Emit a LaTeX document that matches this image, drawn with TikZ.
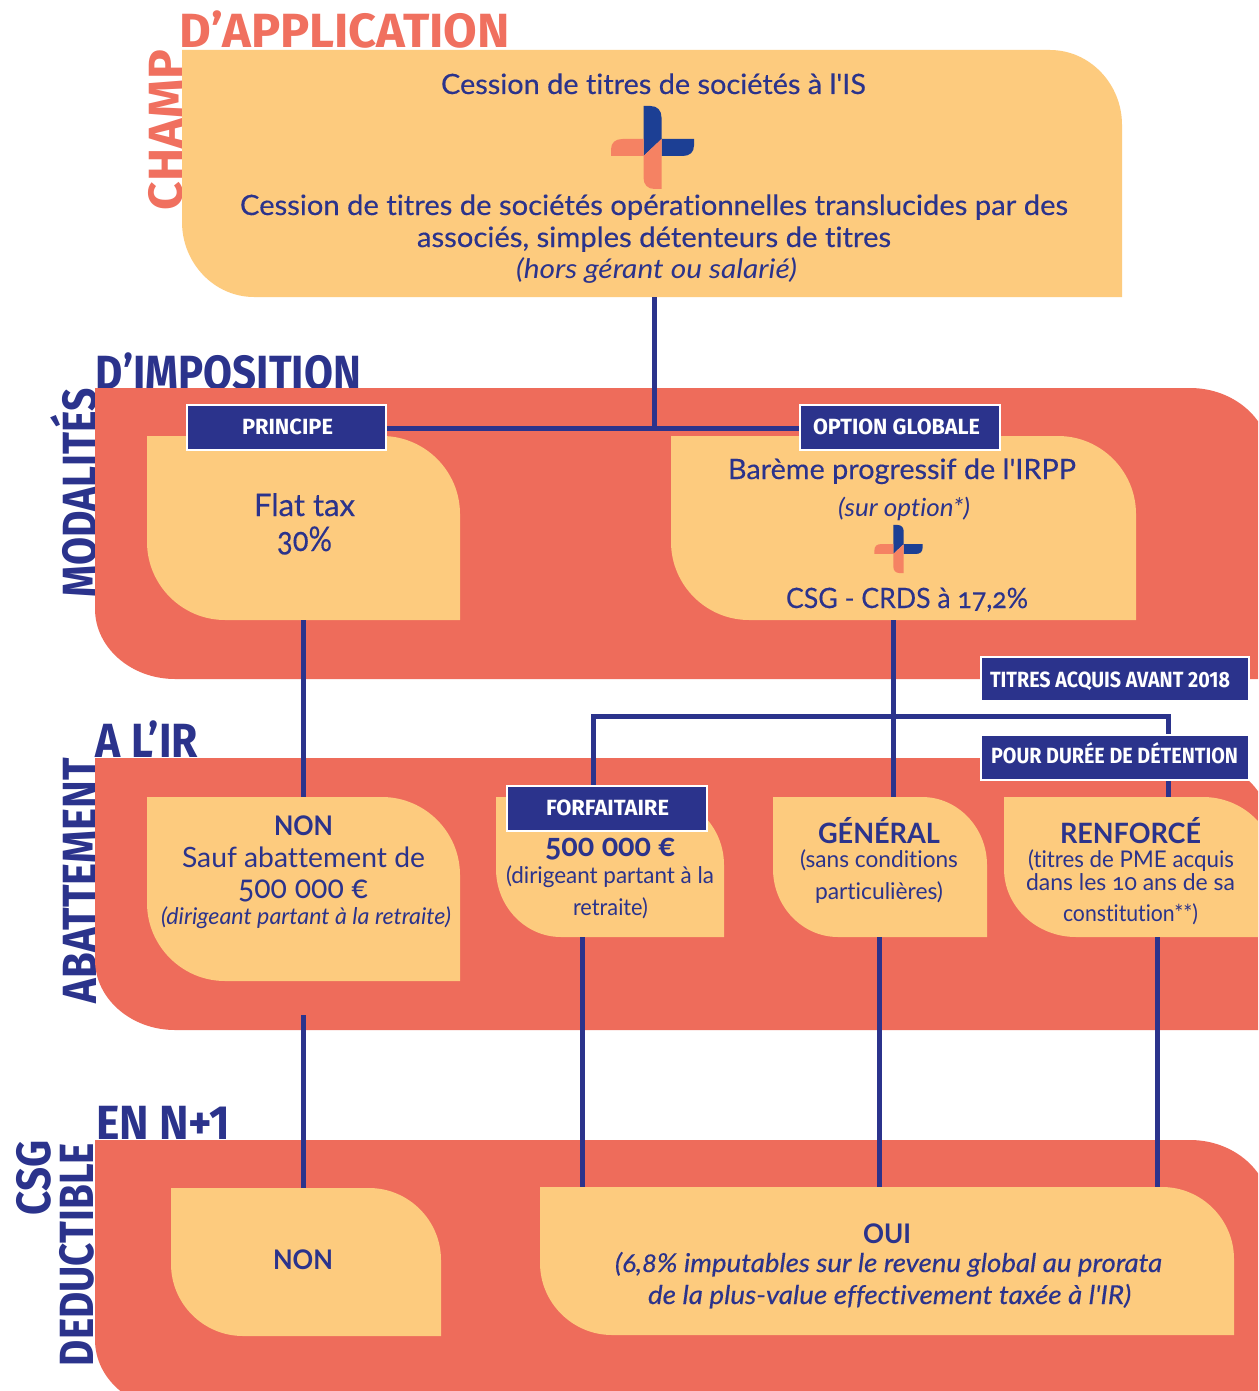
\documentclass[tikz,border=0pt]{standalone}
\usepackage{fontspec}
\usepackage{graphicx}
\setmainfont{Lato}
\newfontfamily\headf{Fira Sans}[BoldFont=Fira Sans Bold]
\newfontfamily\medf{Lato}[FakeBold=0.35,ItalicFont=Lato Italic,ItalicFeatures={FakeBold=0.35},Ligatures=NoCommon,Numbers=OldStyle]
\newfontfamily\regf{Lato}[ItalicFont=Lato Italic,Ligatures=NoCommon,Numbers=OldStyle]
\definecolor{navy}{HTML}{2B338C}
\definecolor{redband}{HTML}{EE6C5B}
\definecolor{salmonh}{HTML}{F0705F}
\definecolor{sand}{HTML}{FDCB7E}
\definecolor{logoblue}{HTML}{1C3F94}
\definecolor{logosalm}{HTML}{F58263}
\tikzset{
  conn/.style={draw=navy,line width=5pt},
  tagbox/.style={rectangle,fill=navy,draw=white,line width=2.5pt,inner sep=0pt,text=white},
  holder/.style={rectangle,inner sep=0pt,draw=none},
  label/.style={inner sep=0pt,outer sep=0pt,anchor=base}
}
% name, x1,y1,x2,y2,rx,ry,colour
\newcommand{\leafbox}[8]{%
  \fill[#8] (#2,#3) -- ({#4-#6},#3) .. controls ({#4-0.45*#6},#3) and (#4,{#3+0.45*#7}) .. (#4,{#3+#7})
    -- (#4,#5) -- ({#2+#6},#5) .. controls ({#2+0.45*#6},#5) and (#2,{#5-0.45*#7}) .. (#2,{#5-#7}) -- cycle;
  \pgfmathsetmacro\bw{#4-#2}\pgfmathsetmacro\bh{#5-#3}%
  \node[holder,minimum width=\bw pt,minimum height=\bh pt] (#1) at ({(#2+#4)/2},{(#3+#5)/2}) {};
}
% name, xl, xr, baseline, font+colour, text
\newcommand{\tline}[6]{%
  \pgfmathsetmacro\tw{#3-#2}%
  \node[label] (#1) at ({(#2+#3)/2},#4) {\resizebox{\tw pt}{\height}{#5#6}};
}
% name, ybottom, ytop, xbase, font+colour, text
\newcommand{\rline}[6]{%
  \pgfmathsetmacro\tw{#2-#3}%
  \node[label,rotate=90] (#1) at (#4,{(#2+#3)/2}) {\resizebox{\tw pt}{\height}{#5#6}};
}
% name, x1,y1,x2,y2, text x1, text x2, baseline, text
\newcommand{\tagnode}[9]{%
  \pgfmathsetmacro\bw{#4-#2}\pgfmathsetmacro\bh{#5-#3}\pgfmathsetmacro\tw{#7-#6}%
  \node[tagbox,minimum width=\bw pt,minimum height=\bh pt] (#1) at ({(#2+#4)/2},{(#3+#5)/2}) {};
  \node[label] (#1t) at ({(#6+#7)/2},#8) {\resizebox{\tw pt}{\height}{\headf\bfseries\fontsize{22}{24}\selectfont\color{white}#9}};
}
% cx, cy, scale
\newcommand{\logomark}[3]{%
  \begin{scope}[shift={(#1,#2)},x=#3pt,y=-#3pt]
    \fill[logoblue] (-9,8.5) -- (-9,-41.5) -- (-2,-41.5) .. controls (5,-41.5) and (9,-37) .. (9,-30) -- (9,-8.5)
      -- (41.5,-8.5) -- (41.5,-2) .. controls (41.5,5) and (37,8.5) .. (30,8.5) -- (9,8.5) -- (9,-8.5) -- cycle;
    \fill[logosalm] (-9,8.5) -- (-41.5,8.5) -- (-41.5,2) .. controls (-41.5,-5) and (-37,-8.5) .. (-30,-8.5) -- (-9,-8.5) -- (-9,8.5)
      -- (9,-8.5) -- (9,41.5) -- (2,41.5) .. controls (-5,41.5) and (-9,37) .. (-9,30) -- cycle;
  \end{scope}
}
\newcommand{\HN}{\headf\bfseries\fontsize{48}{50}\selectfont\color{navy}}
\newcommand{\HS}{\headf\bfseries\fontsize{48}{50}\selectfont\color{salmonh}}
\newcommand{\BM}[1]{\medf\fontsize{#1}{#1}\selectfont\color{navy}}
\newcommand{\BR}[1]{\regf\fontsize{#1}{#1}\selectfont\color{navy}}
\newcommand{\BB}[1]{\regf\bfseries\fontsize{#1}{#1}\selectfont\color{navy}}
\begin{document}
\begin{tikzpicture}[x=1pt,y=-1pt]
\useasboundingbox (0,0) rectangle (1258,1391);
\clip (0,0) rectangle (1258,1391);
\fill[white] (0,0) rectangle (1258,1391);

% headings
\tline{hChampB}{180}{510}{48}{\HS}{D’APPLICATION}
\rline{hChampA}{210}{50}{182}{\HS}{CHAMP}
\tline{hModB}{96}{361}{389}{\HN}{D’IMPOSITION}
\rline{hModA}{597}{388}{96}{\HN}{MODALITÉS}
\tline{hAbB}{96}{198}{757}{\HN}{A L’IR}
\rline{hAbA}{1003}{758}{96}{\HN}{ABATTEMENT}
\tline{hCsgC}{96}{230}{1139}{\HN}{EN N+1}
\rline{hCsgA}{1215}{1140}{50}{\HN}{CSG}
\rline{hCsgB}{1366}{1143}{93}{\HN}{DEDUCTIBLE}

% bands
\leafbox{bandA}{95}{388}{1270}{679}{80}{70}{redband}
\leafbox{bandB}{95}{758}{1270}{1030}{80}{70}{redband}
\leafbox{bandC}{95}{1140}{1270}{1410}{80}{70}{redband}

% junctions
\coordinate (jTop) at (654,428);
\coordinate (jOpt) at (893,716);
\coordinate (jForf) at (593,716);
\coordinate (jRenf) at (1168,716);
\coordinate (sNon) at (303,1015);
\coordinate (xFlat) at (303,620);
\coordinate (xF2) at (582,937);
\coordinate (xG2) at (879,937);
\coordinate (xR2) at (1157,937);

% boxes (first so the holders exist)
\leafbox{top}{182}{50}{1122}{297}{72}{75}{sand}
\leafbox{flat}{147}{436}{460}{620}{78}{78}{sand}
\leafbox{opt}{671}{436}{1136}{620}{78}{78}{sand}
\leafbox{nonA}{147}{797}{460}{981}{78}{78}{sand}
\leafbox{forf}{496}{797}{724}{937}{65}{68}{sand}
\leafbox{gen}{773}{797}{987}{937}{65}{68}{sand}
\leafbox{renf}{1004}{797}{1275}{937}{72}{68}{sand}
\leafbox{nonB}{171}{1188}{441}{1336}{72}{72}{sand}
\leafbox{oui}{540}{1187}{1234}{1335}{72}{72}{sand}

% tags
\tagnode{tagP}{187}{405}{386}{450}{242}{333}{434}{PRINCIPE}
\tagnode{tagO}{800}{405}{1000}{450}{813}{980}{434}{OPTION GLOBALE}
\tagnode{tagF}{507}{786}{707}{831}{546}{669}{815}{FORFAITAIRE}
\tagnode{tagT}{981}{657}{1249}{701}{990}{1230}{687}{TITRES ACQUIS AVANT 2018}
\tagnode{tagD}{981}{735}{1249}{780}{991}{1238}{763}{POUR DURÉE DE DÉTENTION}

% connectors
\begin{scope}[line cap=butt]
\draw[conn] (jTop |- top.south) -- (jTop);
\draw[conn] (tagP.east |- jTop) -- (tagO.west |- jTop);
\draw[conn] (xFlat |- flat.south) -- (xFlat |- nonA.north);
\draw[conn] (jOpt |- opt.south) -- (jOpt |- gen.north);
\draw[conn] (jForf |- tagF.north) -- (jForf) -- (jRenf) -- (jRenf |- tagD.north);
\draw[conn] (jRenf |- tagD.south) -- (jRenf |- renf.north);
\draw[conn] (sNon) -- (sNon |- nonB.north);
\draw[conn] (xF2 |- forf.south) -- (xF2 |- oui.north);
\draw[conn] (xG2 |- gen.south) -- (xG2 |- oui.north);
\draw[conn] (xR2 |- renf.south) -- (xR2 |- oui.north);
\end{scope}

\logomark{652.5}{147.5}{1}
\logomark{898.5}{549}{0.58}

% top box
\tline{t1}{441}{866}{94}{\BM{28}}{Cession de titres de sociétés à l'IS}
\tline{t2}{240}{1068}{215}{\BM{28}}{Cession de titres de sociétés opérationnelles translucides par des}
\tline{t3}{417}{891}{247}{\BM{28}}{associés, simples détenteurs de titres}
\tline{t4}{516}{797}{278}{\BR{27}\itshape}{(hors gérant ou salarié)}
% flat tax
\tline{f1}{254}{355}{516}{\BM{31}}{Flat tax}
\tline{f2}{277}{332}{551}{\BM{34}}{30\%}
% option
\tline{o1}{728}{1076}{479}{\BM{28}}{Barème progressif de l'IRPP}
\tline{o2}{838}{970}{516}{\BR{25}\itshape}{(sur option*)}
\tline{o3}{786}{1028}{608}{\BM{28}}{CSG - CRDS à 17,2\%}
% non abattement
\tline{n1}{274}{333}{835}{\BB{27}}{NON}
\tline{n2}{182}{425}{867}{\BR{28}}{Sauf abattement de}
\tline{n3}{238}{368}{898}{\BR{33}}{500 000 €}
\tline{n4}{161}{451}{924}{\BR{23}\itshape}{(dirigeant partant à la retraite)}
% forfaitaire
\tline{p1}{545}{675}{856}{\BB{32}}{500 000 €}
\tline{p2}{506}{714}{883}{\BR{23}}{(dirigeant partant à la}
\tline{p3}{573}{648}{915}{\BR{23}}{retraite)}
% general
\tline{g1}{818}{940}{843}{\BB{28}}{GÉNÉRAL}
\tline{g2}{800}{958}{867}{\BR{23}}{(sans conditions}
\tline{g3}{815}{943}{899}{\BR{23}}{particulières)}
% renforce
\tline{r1}{1060}{1201}{843}{\BB{28}}{RENFORCÉ}
\tline{r2}{1028}{1234}{867}{\BR{23}}{(titres de PME acquis}
\tline{r3}{1026}{1235}{890}{\BR{23}}{dans les 10 ans de sa}
\tline{r4}{1063}{1198}{921}{\BR{23}}{constitution**)}
% bottom
\tline{b1}{273}{333}{1269}{\BB{27}}{NON}
\tline{c1}{863}{911}{1243}{\BB{27}}{OUI}
\tline{c2}{615}{1162}{1272}{\BM{26}\itshape}{(6,8\% imputables sur le revenu global au prorata}
\tline{c3}{648}{1131}{1304}{\BM{26}\itshape}{de la plus-value effectivement taxée à l'IR)}
\end{tikzpicture}
\end{document}
